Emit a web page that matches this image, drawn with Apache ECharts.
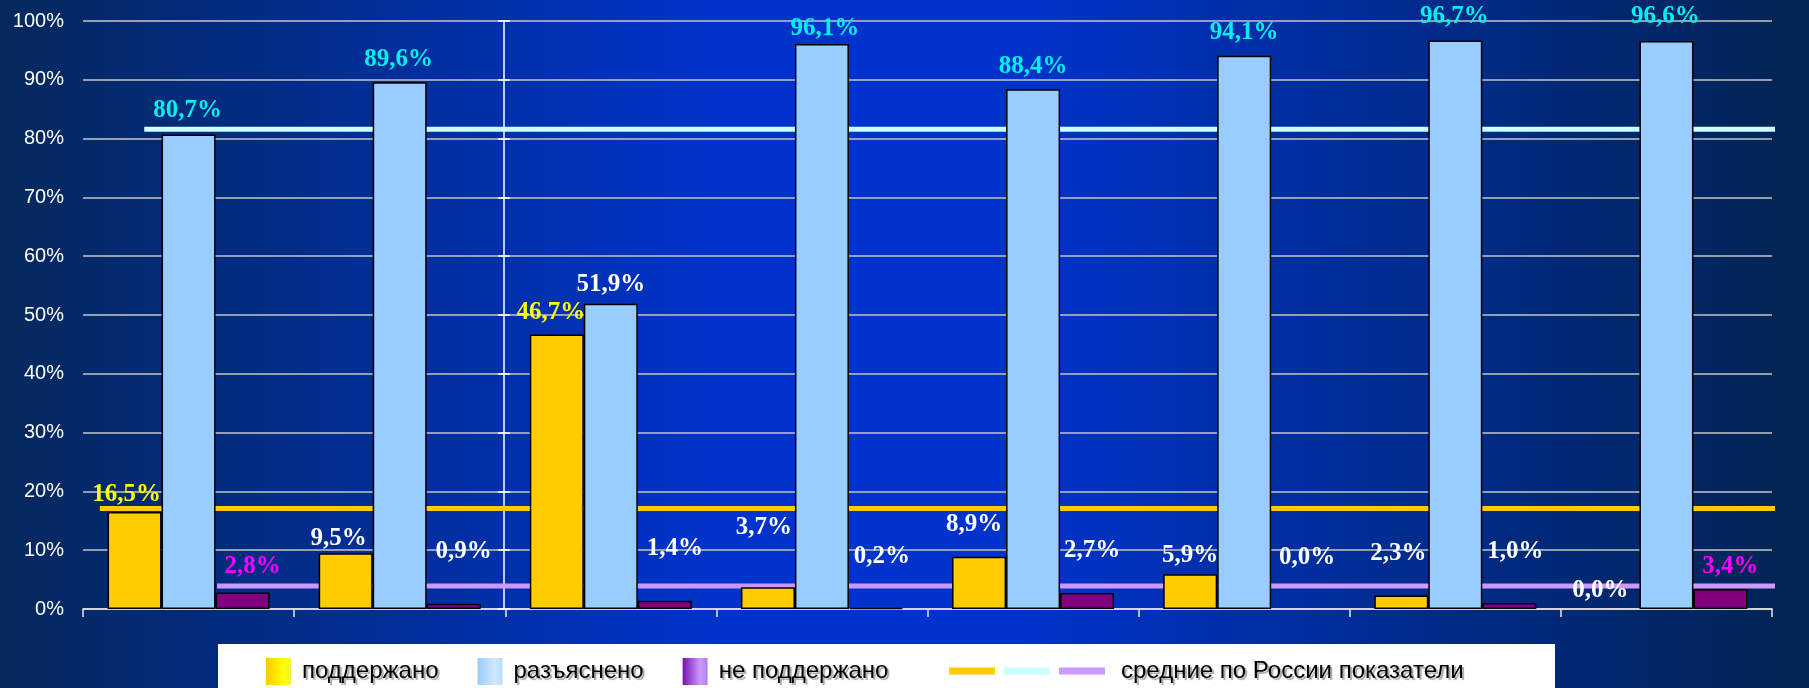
<!DOCTYPE html>
<html>
<head>
<meta charset="utf-8">
<script src="https://cdn.jsdelivr.net/npm/echarts@6/dist/echarts.min.js"></script>
<style>
  html, body { margin: 0; padding: 0; background: #fff; }
  #chart { width: 1809px; height: 688px; }
</style>
</head>
<body>
<div id="chart"></div>
<script>
// ---- data ----
const categories = ['1', '2', '3', '4', '5', '6', '7', '8'];
const seriesNames = ['поддержано', 'разъяснено', 'не поддержано'];
const supported = [16.5, 9.5, 46.7, 3.7, 8.9, 5.9, 2.3, 0.0];
const explained = [80.7, 89.6, 51.9, 96.1, 88.4, 94.1, 96.7, 96.6];
const notSupported = [2.8, 0.9, 1.4, 0.2, 2.7, 0.0, 1.0, 3.4];
const averageNames = ['ср. поддержано', 'ср. разъяснено', 'средние по России показатели'];
const russiaAverages = [17.1, 81.6, 3.9];
// horizontal extent of each average line, in category units
const averageSpan = [[0.08, 8.2], [0.29, 8.08], [0.635, 8.15]];
const yTickLabels = ['0%', '10%', '20%', '30%', '40%', '50%', '60%', '70%', '80%', '90%', '100%'];

// ---- label styling (colour per value, [dx, lift above bar] ) ----
const Y = '#FFFF00', W = '#FFFFFF', C = '#00F0F0', M = '#FF00FF';
const supportedLabelColor = [Y, W, Y, W, W, W, W, W];
const explainedLabelColor = [C, C, W, C, C, C, C, C];
const notSupportedLabelColor = [M, W, W, W, W, W, W, M];
const supportedLabelShift = [[-8, 17], [-7, 15], [-6, 22], [-4, 60], [-5, 32], [0, 19], [-3, 41.5], [-12, 18]];
const explainedLabelShift = [[-1, 23.5], [-1, 23], [0, 19.5], [3, 15], [0, 23], [0, 23], [-1, 24], [-1, 24.5]];
const notSupportedLabelShift = [[10, 25.5], [10, 52], [10, 52], [6, 51], [5, 42.5], [9, 51.5], [6, 52], [10, 22.5]];

function fmt(v) { return v.toFixed(1).replace('.', ',') + '%'; }
function barData(values, colors, shifts) {
  return values.map((v, i) => {
    const item = {
      value: v,
      label: { color: colors[i], offset: [shifts[i][0], -(shifts[i][1] - 12.5)] }
    };
    if (v === 0) item.itemStyle = { borderWidth: 0 };
    return item;
  });
}

const G = echarts.graphic.LinearGradient;
const barColors = ['#FFCC00', '#99CCFF', '#800080'];
const avgColors = ['#FFCC00', '#CCFFFF', '#CC99FF'];

const labelBase = {
  show: true, position: 'top', distance: 0, lineHeight: 25,
  fontFamily: 'Liberation Serif', fontWeight: 'bold', fontSize: 25,
  formatter: p => fmt(p.value)
};

function barSeries(name, values, color, colors, shifts) {
  return {
    name: name, type: 'bar', barWidth: 54, barGap: '0%', z: 3,
    itemStyle: { color: color, borderColor: '#000', borderWidth: 1.5 },
    label: labelBase,
    data: barData(values, colors, shifts)
  };
}

function avgSeries(i) {
  return {
    name: averageNames[i], type: 'line', xAxisIndex: 1, yAxisIndex: 0,
    clip: false, symbol: 'none', silent: true, z: 1,
    color: avgColors[i],
    lineStyle: { color: avgColors[i], width: 5 },
    data: averageSpan[i].map(x => [x, russiaAverages[i]])
  };
}

const chart = echarts.init(document.getElementById('chart'), null, { renderer: 'canvas' });

const legendText = {
  fontFamily: 'Liberation Sans', fontSize: 24, color: '#000',
  textShadowColor: 'rgba(0,0,0,0.35)', textShadowOffsetX: 2, textShadowOffsetY: 2, textShadowBlur: 1
};

chart.setOption({
  animation: false,
  backgroundColor: new G(0, 0, 1, 0, [
    { offset: 0, color: '#05285c' },
    { offset: 0.4, color: '#0033cc' },
    { offset: 0.56, color: '#0033cc' },
    { offset: 1, color: '#022450' }
  ]),
  grid: { left: 83, right: 37, top: 21, bottom: 79, containLabel: false },
  graphic: [{
    type: 'rect', z: 1, silent: true,
    shape: { x: 218, y: 644, width: 1337, height: 44 },
    style: { fill: '#FFFFFF' }
  }],
  legend: [{
    z: 5, left: 266, top: 658, padding: 0, orient: 'horizontal',
    itemWidth: 25, itemHeight: 27, itemGap: 39, icon: 'rect',
    textStyle: Object.assign({ padding: [0, 0, 10, 6] }, legendText),
    data: [
      { name: seriesNames[0], itemStyle: { borderWidth: 0, color: new G(0, 0, 1, 0, [{ offset: 0, color: '#FFC800' }, { offset: 0.7, color: '#FFFF00' }, { offset: 1, color: '#FFEE40' }]) } },
      { name: seriesNames[1], itemStyle: { borderWidth: 0, color: new G(0, 0, 1, 0, [{ offset: 0, color: '#99CCFF' }, { offset: 0.7, color: '#D0E8FF' }, { offset: 1, color: '#B8DAFF' }]) } },
      { name: seriesNames[2], itemStyle: { borderWidth: 0, color: new G(0, 0, 1, 0, [{ offset: 0, color: '#7A10B0' }, { offset: 0.7, color: '#CC99FF' }, { offset: 1, color: '#B080E0' }]) } }
    ]
  }, {
    z: 5, left: 949, top: 659, padding: 0, orient: 'horizontal',
    itemWidth: 46, itemHeight: 7, itemGap: 9, icon: 'rect',
    formatter: name => name === averageNames[2] ? name : '',
    textStyle: Object.assign({ padding: [0, 0, 10, 11] }, legendText),
    data: averageNames.map((n, i) => ({ name: n, itemStyle: { color: avgColors[i] } }))
  }],
  xAxis: [{
    type: 'category', data: categories, boundaryGap: true,
    axisLine: { show: true, lineStyle: { color: '#E8E8E8', width: 1.5 } },
    axisTick: { show: true, length: 8, lineStyle: { color: '#E8E8E8', width: 1.5 } },
    axisLabel: { show: false },
    splitLine: { show: false }
  }, {
    type: 'value', min: 0, max: categories.length, show: false
  }],
  yAxis: [{
    type: 'value', min: 0, max: 100, interval: 10,
    axisLine: { show: false }, axisTick: { show: false },
    axisLabel: {
      color: '#FFFFFF', fontFamily: 'Liberation Sans', fontSize: 20, margin: 19,
      formatter: v => yTickLabels[Math.round(v / 10)]
    },
    splitLine: { show: true, lineStyle: { color: '#C4C4C8', width: 1.5 } }
  }, {
    type: 'value', min: 0, max: 100, interval: 10, position: 'left', offset: -421,
    axisLine: { show: true, lineStyle: { color: '#FFFFFF', width: 1.5 } },
    axisTick: { show: true, inside: false, length: 6, lineStyle: { color: '#FFFFFF', width: 1.5 } },
    axisLabel: { show: false }, splitLine: { show: false }
  }, {
    type: 'value', min: 0, max: 100, interval: 10, position: 'left', offset: -421,
    axisLine: { show: false },
    axisTick: { show: true, inside: true, length: 6, lineStyle: { color: '#FFFFFF', width: 1.5 } },
    axisLabel: { show: false }, splitLine: { show: false }
  }],
  series: [
    barSeries(seriesNames[0], supported, barColors[0], supportedLabelColor, supportedLabelShift),
    barSeries(seriesNames[1], explained, barColors[1], explainedLabelColor, explainedLabelShift),
    barSeries(seriesNames[2], notSupported, barColors[2], notSupportedLabelColor, notSupportedLabelShift),
    avgSeries(0), avgSeries(1), avgSeries(2)
  ]
});
</script>
</body>
</html>
